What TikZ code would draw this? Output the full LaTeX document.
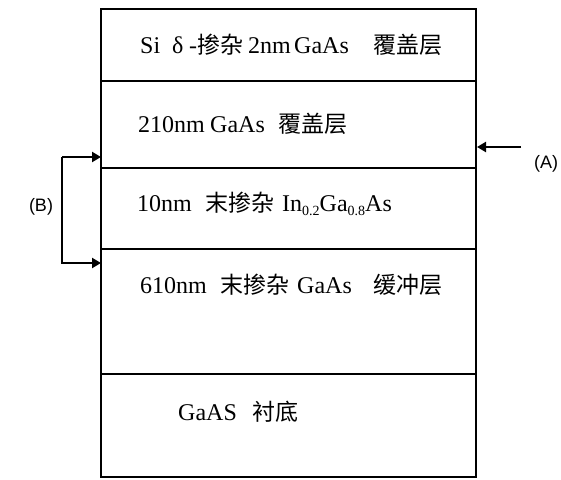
\documentclass[tikz,border=0pt]{standalone}
\usepackage{fontspec}
\setmainfont{Liberation Serif}
\newfontfamily\cjk{Noto Sans CJK SC}[Scale=0.96]
\newfontfamily\lsans{Liberation Sans}
\usetikzlibrary{arrows.meta}
\newcommand{\seg}[2]{\makebox[#1pt][l]{#2}}
\newcommand{\subs}[1]{\raisebox{-4pt}{\fontsize{14}{14}\selectfont #1}}
\begin{document}
\begin{tikzpicture}[x=1pt,y=-1pt,
  txt/.style={anchor=west,inner sep=0pt,font=\fontsize{24}{28}\selectfont},
  lbl/.style={inner sep=0pt,font=\lsans\fontsize{18}{21}\selectfont},
  arr/.style={line width=2.4pt,-{Triangle[length=9pt,width=10pt]}}]
\useasboundingbox (0,0) rectangle (561,479);
\draw[line width=1.8pt] (101,9) rectangle (476,477);
\foreach \yy in {81,168,249,374} \draw[line width=1.3pt] (101,\yy) -- (476,\yy);
\node[txt] (t1) at (140,45) {\seg{32}{Si}\seg{17}{δ}\seg{8}{-}\seg{51}{\cjk 掺杂}\seg{46}{2nm}\seg{79}{GaAs}{\cjk 覆盖层}};
\node[txt] (t2) at (138,124) {\seg{72}{210nm}\seg{68}{GaAs}{\cjk 覆盖层}};
\node[txt] (t3) at (137,204) {\seg{68}{10nm}\seg{77}{\cjk 末掺杂}In\subs{0.2}Ga\subs{0.8}As};
\node[txt] (t4) at (140,285) {\seg{80}{610nm}\seg{77}{\cjk 末掺杂}\seg{76}{GaAs}{\cjk 缓冲层}};
\node[txt] (t5) at (178,412) {\seg{74}{GaAS}{\cjk 衬底}};
\coordinate (a0) at (521,147);
\coordinate (a1) at (477,147);
\draw[arr] (a0) -- (a1);
\node[lbl] (la) at (546,164) {(A)};
\coordinate (b1) at (101,157);
\coordinate (b2) at (101,263);
\coordinate (bc1) at (62,157);
\coordinate (bc2) at (62,263);
\draw[arr] (bc1) -- (b1);
\draw[arr] (bc1) -- (bc2) -- (b2);
\node[lbl] (lb) at (41,207) {(B)};
\end{tikzpicture}
\end{document}
